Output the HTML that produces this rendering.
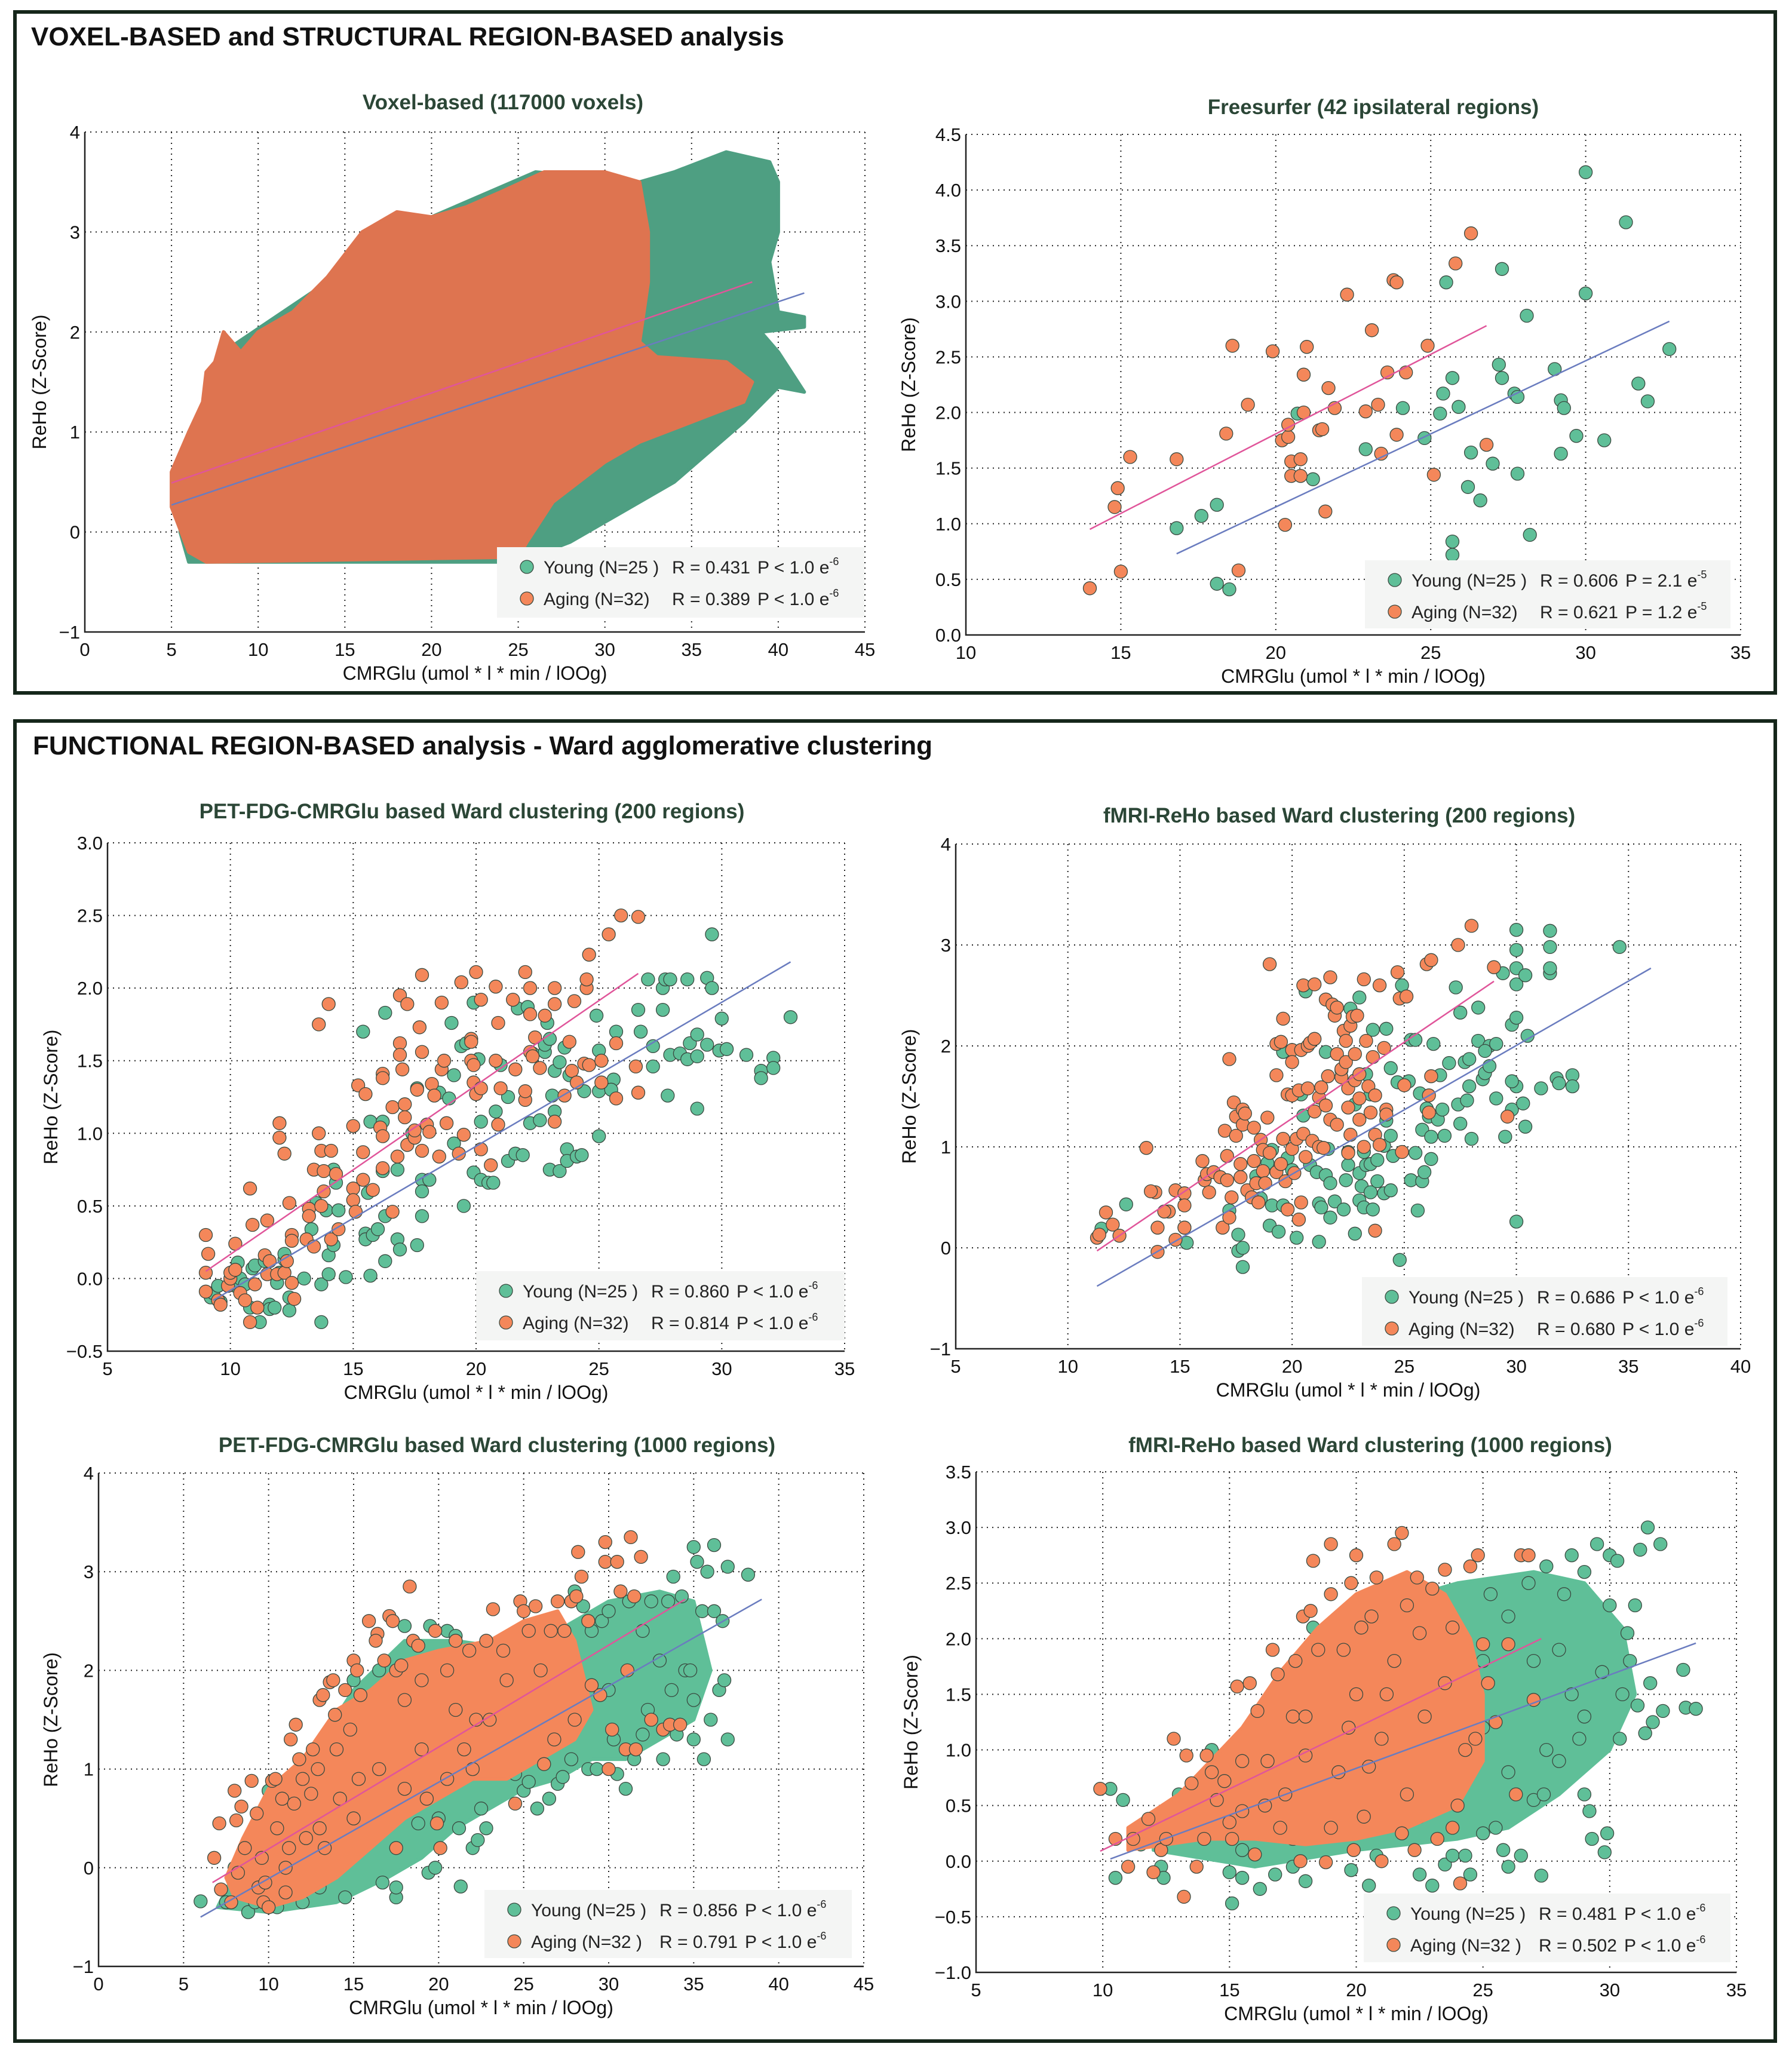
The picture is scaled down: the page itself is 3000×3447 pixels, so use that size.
<!DOCTYPE html>
<html><head><meta charset="utf-8">
<style>
html,body{margin:0;padding:0;background:#fff;}
svg{display:block;font-family:"Liberation Sans",sans-serif;}
</style></head>
<body>
<svg id="fig" width="3000" height="3447" viewBox="0 0 3000 3447" xmlns="http://www.w3.org/2000/svg">
<rect x="0" y="0" width="3000" height="3447" fill="#fff"/>
<rect x="25" y="20" width="2947" height="1140" fill="none" stroke="#15261a" stroke-width="6"/>
<rect x="25" y="1207" width="2947" height="2210" fill="none" stroke="#15261a" stroke-width="6"/>
<text x="52" y="76" font-size="44" font-weight="bold" fill="#111">VOXEL-BASED and STRUCTURAL REGION-BASED analysis</text>
<text x="55" y="1263" font-size="44" font-weight="bold" fill="#111">FUNCTIONAL REGION-BASED analysis - Ward agglomerative clustering</text>
</svg>
<script>
// ---------- DATA ----------
const voxYoungOutline=[5.5,0,6,-0.3,25,-0.3,28,-0.1,31,0.2,34,0.5,36,0.8,38,1.1,40,1.45,41.5,1.4,40,1.8,39,2.0,41.5,2.05,41.5,2.15,40,2.2,39.5,2.7,40,3.0,40,3.5,39.5,3.7,37,3.8,34,3.6,32,3.5,26,3.6,20,3.15,14,2.5,8,1.8,6,0.8];
const voxAgingOutline=[5,0.25,6,-0.2,7,-0.3,25,-0.25,25.5,-0.1,27,0.3,30,0.7,32,0.9,35,1.1,38,1.3,38.5,1.5,37,1.7,33,1.75,32,1.9,32.5,2.5,32.5,3.0,32,3.5,30,3.6,26.5,3.6,24,3.4,22,3.25,20,3.15,18,3.2,16,3.0,14,2.55,12,2.2,10,2.0,9,1.8,8,2.0,7.5,1.7,7,1.6,6.8,1.3,6,1.0,5,0.6];
const voxYoungFit=[5,0.27,41.5,2.39];
const voxAgingFit=[5,0.49,38.5,2.5];

const fsYoung=[16.8,0.96,17.6,1.07,18.1,1.17,18.1,0.46,18.5,0.41,20.7,1.99,21.2,1.4,22.9,1.67,24.1,2.04,24.8,1.77,25.3,1.99,25.4,2.17,25.5,3.17,25.7,0.84,25.7,2.31,25.7,0.72,25.9,2.05,26.2,1.33,26.3,1.64,26.6,1.21,27.0,1.54,27.2,2.43,27.3,2.31,27.3,3.29,27.7,2.17,27.8,1.45,27.8,2.14,28.1,2.87,28.2,0.9,29.0,2.39,29.2,1.63,29.2,2.11,29.3,2.04,29.7,1.79,30.0,4.16,30.0,3.07,30.6,1.75,31.3,3.71,31.7,2.26,32.0,2.1,32.7,2.57];
const fsAging=[14.0,0.42,15.0,0.57,14.8,1.15,14.9,1.32,15.3,1.6,16.8,1.58,18.4,1.81,18.6,2.6,18.8,0.58,19.1,2.07,19.9,2.55,20.2,1.75,20.3,0.99,20.4,1.78,20.4,1.89,20.5,1.56,20.5,1.43,20.8,1.58,20.8,1.43,20.9,2.34,20.9,2.0,21.0,2.59,21.4,1.84,21.5,1.85,21.6,1.11,21.7,2.22,21.9,2.04,22.3,3.06,22.9,2.01,23.1,2.74,23.3,2.07,23.4,1.63,23.6,2.36,23.8,3.19,23.9,3.17,23.9,1.8,24.2,2.36,24.9,2.6,25.1,1.44,25.8,3.34,26.3,3.61,26.8,1.71];
const fsYoungFit=[16.8,0.73,32.7,2.82];
const fsAgingFit=[14,0.95,26.8,2.78];

const pet200Young=[9.2,-0.13,9.3,-0.1,9.5,-0.05,9.6,-0.16,10,-0.04,10.2,-0.05,10.3,0.11,10.4,0.0,10.6,-0.04,10.8,-0.2,10.9,0.07,11,0.09,11.2,-0.3,11.4,0.12,11.6,-0.18,11.6,-0.21,11.8,-0.2,11.9,-0.03,12,0.04,12.2,0.13,12.4,-0.22,12.4,-0.13,12.2,0.17,13,0.0,13.3,0.34,13.5,0.52,13.7,-0.3,13.7,-0.04,13.9,0.47,14,0.03,14,0.16,14.2,0.75,14.2,0.23,14.3,0.66,14.4,0.47,14.7,0.01,15.4,1.7,15.5,0.31,15.5,0.27,15.6,0.59,15.7,1.08,15.8,0.3,15.7,0.02,16,0.34,16.2,1.08,16.2,0.74,16.3,0.12,16.3,1.83,16.3,0.43,16.8,0.75,16.8,0.27,16.9,0.2,17.4,1.0,17.6,0.23,17.8,0.68,17.8,0.6,17.8,0.43,17.6,1.31,18.1,0.68,18.5,1.28,18.9,1.24,19,1.76,19.1,0.93,19.1,1.4,19.4,1.6,19.5,0.5,19.6,1.62,19.9,0.73,19.9,1.9,20.1,1.51,20.2,1.08,20.2,0.68,20.5,0.66,20.7,0.66,20.8,1.15,21,1.47,21.3,1.25,21.3,0.81,21.6,0.86,21.7,1.86,21.9,0.85,22.1,1.87,22.2,1.07,22.3,1.55,22.6,1.09,22.8,1.56,22.8,1.61,22.9,1.76,23,1.65,23,0.75,23.1,1.26,23.2,1.15,23.2,1.43,23.4,1.49,23.4,0.74,23.6,1.59,23.7,0.89,23.8,1.4,23.7,0.81,24.1,0.84,24.3,0.85,24.4,1.29,24.9,1.81,25,0.98,25,1.57,25,1.29,25.6,1.37,25.7,1.7,26.6,1.85,26.7,1.7,27,2.06,27.2,1.6,27.2,1.46,27.6,1.85,27.6,2.0,27.7,2.06,27.9,2.06,27.8,1.26,27.9,1.54,28.3,1.55,28.6,1.51,28.6,2.06,28.7,1.62,29,1.53,29,1.68,29,1.17,29.4,2.07,29.4,1.61,29.6,2.0,29.9,1.57,30,1.79,30.2,1.58,31,1.54,31.6,1.43,31.6,1.38,32.1,1.52,32.1,1.45,32.8,1.8,29.6,2.37,25.5,1.3];
const pet200Aging=[9,0.3,9,0.04,9.1,0.17,9,-0.09,9.5,-0.15,9.6,-0.18,9.9,-0.05,10,0,10,0.04,10.2,0.24,10.2,0.06,10.4,-0.1,10.6,-0.15,10.8,0.62,10.9,0.37,11,-0.04,11.1,-0.2,10.8,-0.3,11.4,0.16,11.5,0.4,11.6,0.12,11.5,0.03,11.9,0.03,12,1.07,12,0.97,12.2,0.86,12.2,0.04,12.3,0.12,12.4,0.52,12.5,-0.03,12.5,0.3,12.6,-0.14,12.5,0.26,13.1,0.27,13.2,0.48,13.2,0.43,13.4,0.75,13.4,0.22,13.6,1.75,13.6,1.0,13.7,0.88,13.7,0.5,13.8,0.74,13.8,0.6,14,1.89,14.1,0.88,14.1,0.27,14.3,0.72,14.4,0.34,15,1.05,15,0.62,15,0.54,15.1,0.46,15.2,1.33,15.4,0.87,15.4,0.68,15.5,1.27,15.8,0.61,16.1,1.04,16.2,1.41,16.2,1.38,16.2,0.98,16.2,0.76,16.6,0.46,16.6,1.18,16.8,0.84,16.9,1.95,16.9,1.62,16.9,1.54,17,1.44,17.1,1.2,17.1,1.11,17.2,1.89,17.2,0.92,17.5,0.97,17.5,1.02,17.6,1.3,17.7,1.73,17.8,2.09,17.8,1.56,17.8,0.88,18,1.06,18.1,1.01,18.2,1.34,18.3,1.26,18.5,0.84,18.6,1.9,18.6,1.44,18.7,1.5,18.8,1.07,19.3,0.86,19.4,2.04,19.5,0.99,19.8,1.65,19.8,1.63,19.8,1.5,19.9,1.47,19.9,1.35,20,2.11,20,1.27,20.2,1.92,20.2,1.31,20.2,0.89,20.6,0.78,20.8,2.01,20.8,1.5,20.9,1.06,20.9,1.76,21,1.31,21.5,1.92,21.6,1.44,22,2.11,22,1.23,22,1.29,22.2,2.0,22.2,1.82,22.2,1.56,22.3,1.53,22.4,1.66,22.6,1.45,22.8,1.81,23.2,1.89,23.2,2.0,23.2,1.08,23.6,1.26,23.8,1.63,23.9,1.43,24.1,1.35,24,1.91,24.4,1.48,24.5,2.0,24.5,2.06,24.6,1.47,24.6,2.23,25.1,1.5,25.1,1.35,25.4,2.37,25.7,1.24,25.7,1.62,25.9,2.5,26.5,1.46,26.6,1.28,26.6,2.49];
const pet200YoungFit=[9.3,-0.15,32.8,2.18];
const pet200AgingFit=[9,0.05,26.6,2.1];

const fmri200Young=[11.5,0.19,12.6,0.43,15.2,0.2,15.3,0.05,17.2,0.37,17.6,0.13,17.6,-0.03,17.8,0.0,17.8,-0.19,18.4,0.71,18.6,0.49,18.9,0.84,19,0.22,19.1,0.42,19.1,0.97,19.4,0.16,19.6,1.94,19.6,0.42,19.8,0.89,20,0.77,20.2,0.1,20.4,1.52,20.5,1.31,20.6,2.54,20.8,0.82,21.1,0.75,21.2,0.44,21.2,0.06,21.3,0.4,21.5,0.72,21.5,1.94,21.6,0.98,21.7,0.64,21.7,0.3,21.9,0.46,22.2,1.76,22.3,0.38,22.4,0.67,22.5,0.82,22.5,0.95,22.6,2.37,22.8,1.42,22.8,0.14,23,0.74,23,0.47,23,2.48,23.1,0.61,23.2,0.95,23.2,0.4,23.3,0.82,23.3,1.72,23.5,0.55,23.5,0.83,23.5,1.52,23.6,2.16,23.6,0.38,23.8,0.66,23.8,0.87,24.1,0.54,24.1,1.01,24.2,2.17,24.2,1.26,24.4,0.57,24.4,1.11,24.4,1.78,24.5,0.91,24.7,1.64,24.8,-0.12,24.9,2.6,25.2,1.65,25.3,0.67,25.3,2.06,25.5,0.94,25.5,2.06,25.6,0.37,25.7,1.53,25.8,0.66,25.8,1.17,25.9,0.75,26,1.38,26.1,1.3,26.2,0.88,26.2,1.1,26.3,2.02,26.5,1.27,26.6,1.71,26.7,1.37,26.8,1.11,27,1.83,27.3,2.58,27.4,1.42,27.5,1.23,27.5,2.33,27.7,1.84,27.8,1.46,27.9,1.87,27.9,1.6,28,1.08,28.3,2.38,28.3,2.05,28.5,1.67,28.6,1.73,28.8,1.8,28.8,2.0,29.1,1.48,29.1,2.02,29.4,2.72,29.5,1.1,29.8,2.21,29.8,1.37,30,2.28,30,1.6,30,0.26,30,3.15,30,2.95,30,2.77,30,2.61,30.3,1.43,30.4,2.7,30.4,1.2,30.5,2.1,31.1,1.58,31.5,2.72,31.5,2.77,31.5,3.14,31.5,2.98,31.8,1.68,31.9,1.63,32.5,1.71,32.5,1.6,34.6,2.98,29.8,1.65,28.6,1.95];
const fmri200Aging=[11.3,0.1,11.4,0.13,11.7,0.35,12,0.23,12.3,0.12,13.5,0.99,13.9,0.55,14,-0.04,14,0.2,14.5,0.36,14.8,0.57,14.8,0.08,15.2,0.54,15.2,0.2,15.2,0.42,16,0.86,16.1,0.67,16.2,0.73,16.3,0.55,16.5,0.75,16.8,0.7,16.9,0.2,17,1.16,17.1,0.67,17.1,0.91,17.2,0.3,17.2,1.87,17.3,0.5,17.4,1.44,17.5,1.11,17.5,1.3,17.7,0.83,17.7,0.7,17.8,1.22,17.8,1.37,17.9,1.33,18,0.57,18.2,0.5,18.3,0.86,18.3,1.19,18.4,0.64,18.5,0.45,18.6,1.07,18.7,0.97,18.7,0.76,18.8,0.64,18.9,1.29,19,0.94,19,2.81,19.3,0.75,19.3,1.71,19.3,2.02,19.5,2.04,19.5,0.83,19.6,2.27,19.6,1.08,19.7,0.66,19.8,1.52,19.8,0.38,20,1.96,20,1.84,20,0.98,20,1.51,20.1,0.74,20.2,1.08,20.3,0.28,20.3,1.56,20.4,1.96,20.4,0.45,20.5,2.6,20.5,1.13,20.6,0.9,20.7,1.58,20.7,2.0,20.8,2.03,20.9,1.06,21,1.35,21,2.07,21,2.61,21.2,1.0,21.2,1.49,21.3,1.59,21.4,0.99,21.5,1.41,21.5,2.46,21.6,1.7,21.7,1.27,21.7,2.68,21.8,2.41,21.9,2.3,22,1.22,22,2.38,22,1.92,22.2,1.69,22.2,1.77,22.3,2.15,22.4,1.84,22.4,2.05,22.5,1.58,22.5,1.39,22.5,0.94,22.6,2.2,22.6,1.12,22.7,2.29,22.8,1.66,22.8,1.92,22.9,2.3,23,1.72,23,1.48,23,1.27,23.2,1.0,23.2,2.66,23.3,2.05,23.4,1.6,23.5,1.34,23.6,1.89,23.7,1.51,23.7,1.12,23.7,0.17,23.9,1.02,23.9,2.6,24.1,1.98,24.2,1.37,24.2,1.32,24.7,2.73,24.8,2.47,24.9,0.95,25,1.61,25.1,2.49,26,2.81,26.1,1.51,26.2,2.85,26.1,1.34,26.2,1.7,27.4,3.0,28,3.19,29,2.78,29.6,1.3,13.7,0.56,14.3,0.36];
const fmri200YoungFit=[11.3,-0.38,36,2.77];
const fmri200AgingFit=[11.3,-0.03,29,2.64];

const pet1000YoungCore=[7,-0.4,10,-0.45,14,-0.35,17,-0.1,19,0.1,21,0.4,23,0.6,25,0.8,27,0.9,29,1.1,31,1.1,33,1.3,35,1.5,36,2.0,35,2.7,33,2.8,30,2.7,28,2.5,25,2.2,21,2.3,18,2.3,15,1.8,12,1.0,9,0.3];
const pet1000AgingCore=[8,-0.3,10,-0.4,12,-0.3,14,-0.1,16,0.2,18,0.5,20,0.7,22,0.9,24,0.9,26,1.1,28,1.3,29,1.6,28,2.3,27,2.6,25,2.5,23,2.3,20,2.2,18,2.1,16,1.8,14,1.6,12,1.1,10,0.8,8.5,0.3,7.5,-0.1];
const pet1000Young=[6,-0.34,7.5,-0.35,8,0.0,8.8,-0.45,9.2,-0.35,10,0.78,10.5,-0.4,11,0.4,12,-0.35,13,0.2,13.5,1.2,14.5,-0.3,15,1.9,15.5,1.5,16,0.4,16.5,2.0,16.7,-0.15,17.5,-0.3,17.5,-0.2,18,2.45,18.8,0.45,19.4,-0.05,19.5,2.45,19.8,0.0,19.5,1.2,20,0.5,20.5,2.4,21,2.35,21.2,0.4,21.3,-0.19,22,0.2,22.3,0.28,22.8,0.4,22.5,0.6,23,2.0,23.5,1.9,24,2.3,24.5,0.95,25,0.78,25.3,0.87,25.8,0.6,26,1.2,26.5,0.7,27,0.85,27.3,0.92,27.8,1.1,28,2.8,28.5,2.65,28.8,1.0,29,2.4,29.3,1.0,29.6,2.5,30,2.6,30.3,1.3,30.5,0.95,31,0.8,31.2,2.7,31.5,1.1,32,2.4,32.3,1.6,32.5,2.7,33,2.1,33.2,1.1,33.5,2.7,33.8,2.95,34,1.35,34.3,2.75,34.5,2.0,35,3.25,35,1.7,35,1.3,35.2,3.1,35.5,2.6,35.6,1.1,35.8,3.0,36,1.5,36.2,2.6,36.2,3.27,36.5,1.8,36.7,2.5,36.8,1.9,37,3.05,37,1.3,38.2,2.97,34.8,2.0,33.7,1.8,32,1.35,30,1.8,28,1.8,26.5,1.5,24,1.3,21,1.0,18,0.9,15.5,0.2,13,-0.2,11,-0.2];
const pet1000Aging=[6.8,0.1,7.1,0.45,7.2,-0.22,7.8,-0.35,8,0.78,8.1,0.48,8.4,0.62,8.2,-0.05,8.6,0.2,9,0.88,9.3,0.55,9.4,-0.2,9.7,-0.35,9.6,0.1,10.2,0.88,10.4,0.9,10.5,0.4,10.8,0.7,11,-0.25,11.2,0.2,11.5,0.65,11.3,1.3,11.6,1.45,11.8,1.1,12,0.9,12.2,0.3,12.5,0.75,12.6,1.2,12.9,1.0,13,1.7,13.2,1.75,13.3,0.2,13.6,1.88,13.8,1.9,13.9,1.55,14,1.2,14.2,0.7,14.5,1.8,14.8,1.4,15,2.1,15.2,2.0,15.4,1.75,15.3,0.9,15.9,2.5,16.4,2.37,16.3,2.3,16.8,2.1,17.1,2.55,17.3,2.5,17.5,2.0,17.5,0.2,17.8,2.05,18,1.7,18.3,2.85,18.5,2.3,18.8,2.25,19,1.9,19.3,0.7,19.8,2.4,19.9,0.45,20.1,0.2,20.5,2.0,21,2.3,21.5,1.2,21.8,2.2,22.2,1.5,22.8,2.3,23.2,2.62,23.8,2.2,24,1.9,24.5,0.65,24.8,2.7,25,2.6,25.3,2.4,25.7,2.65,26,2.0,26.2,1.05,26.6,2.4,27,2.7,27.4,2.4,27.8,2.7,28.1,2.75,28.2,3.2,28.4,2.95,28.8,2.5,29,1.85,29.5,1.75,29.8,3.3,29.8,3.1,30,1.0,30.2,1.4,30.5,3.1,30.7,2.8,31,1.2,31.1,2.0,31.3,3.35,31.5,2.75,31.6,1.2,31.9,3.15,32.5,1.5,33.2,1.4,33.6,1.45,34.2,1.45,22,1.0,21,1.6,19,1.2,16.5,1.0,15,0.5,13,0.4,11,0.0,10,-0.4,9.8,-0.15,26.8,1.3,28,1.5,23,1.5,20.5,0.9,18,0.8];
const pet1000YoungFit=[6,-0.5,39,2.72];
const pet1000AgingFit=[6.7,-0.15,34.5,2.72];

const fmri1000YoungCore=[12,0.1,16,-0.05,20,0.1,24,0.2,26,0.3,28,0.6,30,1.0,31,1.5,30.5,2.1,29,2.5,27,2.6,24,2.5,21,2.3,18,1.6,15,0.8,12,0.4];
const fmri1000AgingCore=[11,0.1,14,0.2,16,0.2,18,0.15,20,0.2,22,0.3,24,0.5,25,0.9,25,1.5,24.5,2.0,23.5,2.4,22,2.6,20,2.4,18.5,2.1,17,1.7,15.5,1.2,13,0.6,11,0.3];
const fmri1000Young=[10.3,0.65,10.8,0.55,10.5,-0.15,11.5,0.15,12.3,-0.05,12.4,-0.15,12.6,0.45,13,0.6,13.4,0.25,14.3,1.0,15,-0.1,15.1,-0.38,15.5,-0.15,15.5,0.1,16.2,-0.25,16.8,-0.12,17.5,-0.05,18,-0.18,18.3,2.1,19.8,-0.08,20.5,-0.22,20.8,0.05,21.8,0.9,22.5,-0.12,23,-0.22,23.5,-0.03,23.8,0.05,24.3,0.05,24.5,-0.12,25,0.25,25.3,2.4,25.5,0.3,25.8,0.1,26,-0.05,26.5,0.05,26.8,2.5,27,0.55,27.3,-0.13,27.4,0.6,27.5,2.65,28,0.9,28.2,2.4,28.5,2.75,28.8,1.1,29,0.6,29,2.6,29.2,0.45,29.3,0.2,29.5,2.85,29.8,0.08,29.9,0.25,30,2.3,30,2.75,30.3,2.7,30.4,1.1,30.7,2.05,30.8,1.8,31,2.3,31.1,1.4,31.2,2.8,31.4,1.15,31.5,3.0,31.6,1.6,31.7,1.25,32,2.85,32.1,1.35,32.9,1.72,33.0,1.38,33.4,1.37,30.5,1.5,29,1.3,27.5,1.0,26,0.8,25,1.2,27,1.8,28,1.9,26,2.2,25,1.8,24,0.7,22.5,0.4,21,0.3,19.5,0.5,17.5,0.2,16,0.4,29.7,1.7,28.5,1.5];
const fmri1000Aging=[9.9,0.65,10.5,0.2,11,-0.05,11.2,0.2,11.8,0.38,12,-0.1,12.3,0.1,12.5,0.2,12.8,1.1,13.2,-0.32,13.3,0.95,13.5,0.7,13.7,-0.05,14,0.2,14.1,0.95,14.3,0.8,14.5,0.55,14.8,0.72,15,0.35,15.1,0.2,15.3,1.57,15.5,0.9,15.8,1.6,16,0.06,16.1,1.35,16.4,0.5,16.7,1.9,16.9,1.68,17,0.3,17.5,1.3,17.6,1.8,17.8,0.0,17.9,2.2,18,0.95,18.2,2.25,18.3,2.7,18.5,1.9,18.8,-0.01,19,2.85,19,2.4,19.3,0.8,19.5,1.9,19.8,2.5,19.9,0.1,20,2.75,20.2,2.1,20.5,0.85,20.6,2.2,20.8,2.55,21,0.0,21.2,1.5,21.5,2.85,21.8,2.95,21.8,0.25,22,2.3,22.3,0.1,22.4,2.55,22.7,1.3,23,2.45,23.2,0.2,23.5,2.62,23.8,2.1,24,0.5,24.1,-0.2,24.3,1.0,24.5,2.65,24.8,2.75,25,1.95,25.2,1.6,25.5,1.25,26,1.95,26.3,0.6,26.5,2.75,26.8,2.75,27,1.45,23.8,0.3,22,0.6,20.3,0.4,19,0.3,17.2,0.6,16.5,0.9,15.5,0.45,18,1.3,21.5,1.8,23.5,1.6,24.7,1.1,20,1.5,22.5,2.05,19.7,1.2,21,1.1];
const fmri1000YoungFit=[10.3,0.02,33.4,1.96];
const fmri1000AgingFit=[9.9,0.09,27.3,2.0];

const ticksX45=[0,5,10,15,20,25,30,35,40,45];
const ticksX1035=[10,15,20,25,30,35];
const ticksX535=[5,10,15,20,25,30,35];
const ticksX540=[5,10,15,20,25,30,35,40];
const ticksYint=[-1,0,1,2,3,4];
const ticksYfs=[0,0.5,1,1.5,2,2.5,3,3.5,4,4.5];
const ticksYpet200=[-0.5,0,0.5,1,1.5,2,2.5,3];
const ticksYfmri1000=[-1,-0.5,0,0.5,1,1.5,2,2.5,3,3.5];

const legYoung=[["0.431","P < 1.0 e","-6"],["0.606","P = 2.1 e","-5"],["0.860","P < 1.0 e","-6"],["0.686","P < 1.0 e","-6"],["0.856","P < 1.0 e","-6"],["0.481","P < 1.0 e","-6"]];
const legAging=[["0.389","P < 1.0 e","-6"],["0.621","P = 1.2 e","-5"],["0.814","P < 1.0 e","-6"],["0.680","P < 1.0 e","-6"],["0.791","P < 1.0 e","-6"],["0.502","P < 1.0 e","-6"]];

// ---------- DRAW ----------
const NS="http://www.w3.org/2000/svg";
const svg=document.getElementById('fig');
const GREEN="#5fbf98",ORANGE="#f4875a",GREEN_V="#4e9f82",ORANGE_V="#de7450";
function mk(tag,attrs,parent){const e=document.createElementNS(NS,tag);for(const k in attrs)e.setAttribute(k,attrs[k]);(parent||svg).appendChild(e);return e;}

const panels=[
 {key:'voxel',title:'Voxel-based (117000 voxels)',tx:842,ty:183,L:142,R:1448,T:221,B:1058,xd:[0,45],yd:[-1,4],xt:ticksX45,yt:ticksYint,dec:0,ylx:77,leg:[832,916,615,118],n:['(N=25 )','(N=32)']},
 {key:'freesurfer',title:'Freesurfer (42 ipsilateral regions)',tx:2299,ty:191,L:1617,R:2914,T:225,B:1063,xd:[10,35],yd:[0,4.5],xt:ticksX1035,yt:ticksYfs,dec:1,ylx:1532,leg:[2285,938,612,114],n:['(N=25 )','(N=32)']},
 {key:'pet200',title:'PET-FDG-CMRGlu based Ward clustering (200 regions)',tx:790,ty:1370,L:180,R:1414,T:1411,B:2262,xd:[5,35],yd:[-0.5,3],xt:ticksX535,yt:ticksYpet200,dec:1,ylx:96,leg:[797,2128,617,116],n:['(N=25 )','(N=32)']},
 {key:'fmri200',title:'fMRI-ReHo based Ward clustering (200 regions)',tx:2242,ty:1377,L:1600,R:2914,T:1413,B:2258,xd:[5,40],yd:[-1,4],xt:ticksX540,yt:ticksYint,dec:0,ylx:1533,leg:[2280,2138,612,115],n:['(N=25 )','(N=32)']},
 {key:'pet1000',title:'PET-FDG-CMRGlu based Ward clustering (1000 regions)',tx:832,ty:2431,L:165,R:1446,T:2466,B:3292,xd:[0,45],yd:[-1,4],xt:ticksX45,yt:ticksYint,dec:0,ylx:96,leg:[811,3164,615,114],n:['(N=25 )','(N=32 )']},
 {key:'fmri1000',title:'fMRI-ReHo based Ward clustering (1000 regions)',tx:2294,ty:2431,L:1634,R:2907,T:2464,B:3302,xd:[5,35],yd:[-1,3.5],xt:ticksX535,yt:ticksYfmri1000,dec:1,ylx:1536,leg:[2283,3170,614,115],n:['(N=25 )','(N=32 )']}
];
const series={
 voxel:{yc:voxYoungOutline,ac:voxAgingOutline,y:null,a:null,yf:voxYoungFit,af:voxAgingFit},
 freesurfer:{y:fsYoung,a:fsAging,yf:fsYoungFit,af:fsAgingFit},
 pet200:{y:pet200Young,a:pet200Aging,yf:pet200YoungFit,af:pet200AgingFit},
 fmri200:{y:fmri200Young,a:fmri200Aging,yf:fmri200YoungFit,af:fmri200AgingFit},
 pet1000:{yc:pet1000YoungCore,ac:pet1000AgingCore,y:pet1000Young,a:pet1000Aging,yf:pet1000YoungFit,af:pet1000AgingFit},
 fmri1000:{yc:fmri1000YoungCore,ac:fmri1000AgingCore,y:fmri1000Young,a:fmri1000Aging,yf:fmri1000YoungFit,af:fmri1000AgingFit}
};

panels.forEach((p,pi)=>{
 const g=mk('g',{});
 
 
 const sx=v=>p.L+(v-p.xd[0])/(p.xd[1]-p.xd[0])*(p.R-p.L);
 const sy=v=>p.B-(v-p.yd[0])/(p.yd[1]-p.yd[0])*(p.B-p.T);
 const fmtY=v=>{let s=p.dec?v.toFixed(1):String(v);return s.replace('-','\u2212');};
 const fmtX=v=>String(v).replace('-','\u2212');
 const t=mk('text',{x:p.tx,y:p.ty,'font-size':35,'font-weight':'bold',fill:'#2b4636','text-anchor':'middle'},g);
 t.textContent=p.title;
 
 
 p.xt.forEach(v=>{
  const l=mk('line',{x1:sx(v),x2:sx(v),y1:p.T,y2:p.B,stroke:'#222','stroke-width':2,'stroke-dasharray':'2,7'},g);
  
  
  const tl=mk('text',{x:sx(v),y:p.B+40,'font-size':31,fill:'#111','text-anchor':'middle'},g);
  tl.textContent=fmtX(v);
  
  
 });
 p.yt.forEach(v=>{
  const l=mk('line',{x1:p.L,x2:p.R,y1:sy(v),y2:sy(v),stroke:'#222','stroke-width':2,'stroke-dasharray':'2,7'},g);
  
  
  const tl=mk('text',{x:p.L-8,y:sy(v)+11,'font-size':31,fill:'#111','text-anchor':'end'},g);
  tl.textContent=fmtY(v);
  
  
 });
 const xl=mk('text',{x:(p.L+p.R)/2,y:p.B+80,'font-size':32,fill:'#111','text-anchor':'middle'},g);
 xl.textContent='CMRGlu (umol * l * min / lOOg)';
 
 
 const yl=mk('text',{x:p.ylx,y:(p.T+p.B)/2,'font-size':32,fill:'#111','text-anchor':'middle',transform:`rotate(-90 ${p.ylx} ${(p.T+p.B)/2})`},g);
 yl.textContent='ReHo (Z-Score)';
 
 
 const s=series[p.key];
 const poly=(arr,fill,name)=>{let pts=[];for(let i=0;i<arr.length;i+=2)pts.push(sx(arr[i]).toFixed(1)+','+sy(arr[i+1]).toFixed(1));
  const e=mk('polygon',{points:pts.join(' '),fill:fill,stroke:fill,'stroke-width':6,'stroke-linejoin':'round'},g);
  
  };
 const dots=(arr,fill,name)=>{for(let i=0;i<arr.length;i+=2){
  const c=mk('circle',{cx:sx(arr[i]).toFixed(1),cy:sy(arr[i+1]).toFixed(1),r:11,fill:fill,stroke:'#3a4a40','stroke-width':1.3},g);
  
  }};
 const isVox=p.key==='voxel';
 if(s.yc)poly(s.yc,isVox?GREEN_V:GREEN,'young-cloud');
 if(s.y)dots(s.y,GREEN,'young-point');
 if(s.ac)poly(s.ac,isVox?ORANGE_V:ORANGE,'aging-cloud');
 if(s.a)dots(s.a,ORANGE,'aging-point');
 const fit=(f,col,name)=>{const e=mk('line',{x1:sx(f[0]),y1:sy(f[1]),x2:sx(f[2]),y2:sy(f[3]),stroke:col,'stroke-width':2.5},g);
  
  };
 fit(s.af,'#e0559a','aging-fit-line');
 fit(s.yf,'#6a7cbf','young-fit-line');
 const ax=mk('path',{d:`M${p.L},${p.T} L${p.L},${p.B} L${p.R},${p.B}`,fill:'none',stroke:'#222','stroke-width':2.5},g);
 
 
 const [lx,ly,lw,lh]=p.leg;
 const lg=mk('g',{},g);
 
 
 mk('rect',{x:lx,y:ly,width:lw,height:lh,fill:'#f4f5f4'},lg);
 [[GREEN,'Young',p.n[0],legYoung[pi]],[ORANGE,'Aging',p.n[1],legAging[pi]]].forEach((row,ri)=>{
  const cy=ly+33+ri*53;
  const e=mk('g',{},lg);
  
  
  mk('circle',{cx:lx+50,cy:cy,r:11,fill:row[0],stroke:'#3a4a40','stroke-width':1.3},e);
  const t1=mk('text',{x:lx+78,y:cy+11,'font-size':30,fill:'#222'},e);
  t1.textContent=row[1]+' '+row[2];
  const t2=mk('text',{x:lx+293,y:cy+11,'font-size':30,fill:'#222'},e);
  t2.textContent='R = '+row[3][0];
  const t3=mk('text',{x:lx+436,y:cy+11,'font-size':30,fill:'#222'},e);
  t3.textContent=row[3][1];
  const sup=mk('tspan',{'font-size':18,dy:-14},t3);
  sup.textContent=row[3][2];
 });
});
</script>
</body></html>
